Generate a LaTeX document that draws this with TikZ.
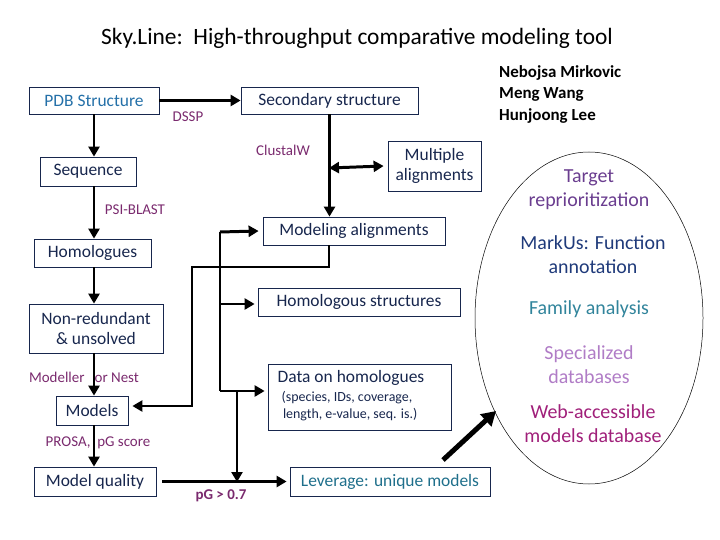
\documentclass[tikz,border=0pt]{standalone}
\usepackage{fontspec}
\setmainfont{Carlito}
\usetikzlibrary{arrows.meta}
\definecolor{navy}{HTML}{17264D}
\definecolor{pdbblue}{HTML}{2470A8}
\definecolor{lab}{HTML}{7A2A6E}
\definecolor{lev}{HTML}{1F6F8B}
\definecolor{c1}{HTML}{6A3D8F}
\definecolor{c2}{HTML}{1F3A7A}
\definecolor{c3}{HTML}{31849B}
\definecolor{c4}{HTML}{B07CC6}
\definecolor{c5}{HTML}{A0207A}
\begin{document}
\begin{tikzpicture}[x=1bp,y=-1bp,line join=miter,
  box/.style={draw=navy,line width=0.8pt,text=navy,font=\fontsize{17.5}{20}\selectfont,align=center,inner sep=0pt},
  lbl/.style={text=lab,font=\fontsize{15}{17}\selectfont,inner sep=0pt},
  arr/.style={line width=3pt,-{Triangle[length=10bp,width=11bp]}},
  ln/.style={line width=3pt},
  oval/.style={font=\fontsize{20}{24}\selectfont,align=center,inner sep=0pt}]
\useasboundingbox (0,0) rectangle (720,540);
\node[font=\fontsize{23.5}{26}\selectfont] (title) at (357,38) {Sky.Line:\ \ High-throughput comparative modeling tool};
\node[font=\bfseries\fontsize{17}{22}\selectfont,align=left,anchor=north west,inner sep=0pt] (auth) at (499,65) {Nebojsa Mirkovic\\Meng Wang\\Hunjoong Lee};
% boxes
\node[box,text=pdbblue,minimum width=130bp,minimum height=27bp] (pdb) at (94,100.5) {PDB Structure};
\node[box,minimum width=177bp,minimum height=27bp] (sec) at (329.5,100.5) {Secondary structure};
\node[box,minimum width=96bp,minimum height=29bp] (seq) at (88,171.5) {Sequence};
\node[box,minimum width=93bp,minimum height=50bp] (mult) at (434.5,166) {Multiple\\alignments};
\node[box,minimum width=182bp,minimum height=28bp] (mod) at (354,231) {Modeling alignments};
\node[box,minimum width=117bp,minimum height=28bp] (hom) at (92.5,253) {Homologues};
\node[box,minimum width=202bp,minimum height=28bp] (hs) at (359,302) {Homologous structures};
\node[box,minimum width=134bp,minimum height=49bp] (nr) at (96,328.5) {Non-redundant\\\& unsolved};
\node[box,minimum width=183bp,minimum height=66bp] (data) at (359.5,397) {};
\node[text=navy,font=\fontsize{17.5}{20}\selectfont,inner sep=0pt] (dt) at (351,378) {Data on homologues};
\node[text=navy,font=\fontsize{14}{17}\selectfont,align=center,inner sep=0pt] (ds) at (347,406) {(species, IDs, coverage,\\\ \ length, e-value, seq. is.)};
\node[box,minimum width=72bp,minimum height=29bp] (models) at (92,410.5) {Models};
\node[box,minimum width=122bp,minimum height=29bp] (mq) at (95,481.5) {Model quality};
\node[box,draw=navy,text=lev,minimum width=200bp,minimum height=29bp] (lev) at (390,481.5) {Leverage: unique models};
% labels
\node[lbl] (dssp) at (188,117) {DSSP};
\node[lbl] (clu) at (283,150) {ClustalW};
\node[lbl] (psi) at (135,210) {PSI-BLAST};
\node[lbl] (mn) at (84,377) {Modeller\ \ \ or Nest};
\node[lbl] (pro) at (98,443) {PROSA,\ \ pG score};
\node[lbl,font=\bfseries\fontsize{15}{17}\selectfont] (pg) at (221,496) {pG > 0.7};
% arrows
\draw[arr] (pdb.east) -- (sec.west);
\draw[arr] (pdb.south) -- (pdb.south|-seq.north);
\draw[arr] (sec.south) -- (mod.north-|sec.south);
\coordinate (cw) at (329,168);
\draw[line width=3pt,{Triangle[length=10bp,width=11bp]}-{Triangle[length=10bp,width=11bp]}] (cw) -- ([xshift=-4bp]mult.west);
\draw[arr] (seq.south-|pdb.south) -- (hom.north-|pdb.south);
\draw[arr] (hom.south-|pdb.south) -- (nr.north-|pdb.south);
\draw[arr] (nr.south-|pdb.south) -- (models.north-|pdb.south);
\draw[arr] (models.south-|pdb.south) -- (mq.north-|pdb.south);
\coordinate (m1) at (329,267);
\coordinate (m2) at (192,267);
\draw[arr] (mod.south-|m1) -- (m1) -- (m2) -- (192,406) -- ([xshift=4bp]models.east|-0,406);
\coordinate (t) at (220,232);
\coordinate (b) at (220,391);
\draw[ln] (t) -- (b);
\draw[arr] (t) -- ([xshift=-4bp]mod.west);
\draw[arr] (220,304) -- ([xshift=-3bp]hs.west|-0,304);
\draw[arr] (b) -- ([xshift=-3bp]data.west|-0,391);
\draw[arr] (237,391) -- (237,482);
\draw[arr] ([xshift=6bp]mq.east) -- ([xshift=-3bp]lev.west);
% oval
\draw[line width=0.5pt] (589,318) ellipse [x radius=114, y radius=166];
\node[oval,text=c1] (o1) at (589,190) {Target\\reprioritization};
\node[oval,text=c2] (o2) at (593,255) {MarkUs: Function\\annotation};
\node[oval,text=c3] (o3) at (589,309) {Family analysis};
\node[oval,text=c4] (o4) at (589,365) {Specialized\\databases};
\node[oval,text=c5] (o5) at (593,424) {Web-accessible\\models database};
\coordinate (ta) at (443,460);
\coordinate (tb) at (496,411);
\draw[line width=5pt,-{Triangle[length=14bp,width=16bp]}] (ta) -- (tb);
\end{tikzpicture}
\end{document}
